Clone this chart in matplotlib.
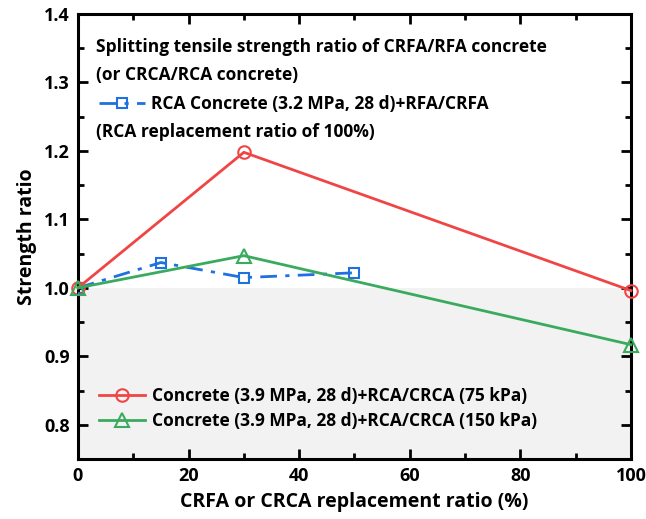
import numpy as np
import matplotlib.pyplot as plt
from matplotlib.ticker import MultipleLocator

plt.rcParams['font.family'] = ['Open Sans', 'DejaVu Sans']
plt.rcParams['font.weight'] = 'bold'

# Datos
x_rca = [0, 15, 30, 50]
y_rca = [1.0, 1.037, 1.015, 1.022]

x_75 = [0, 30, 100]
y_75 = [1.0, 1.198, 0.996]

x_150 = [0, 30, 100]
y_150 = [1.0, 1.047, 0.917]

ROJO = '#f04545'
VERDE = '#3aab5e'
AZUL = '#1f70e0'
FS = 12.5

fig = plt.figure(figsize=(6.46, 5.19), dpi=100)
ax = fig.add_axes([0.1207, 0.1156, 0.8561, 0.8574])

ax.set_xlim(0, 100)
ax.set_ylim(0.75, 1.4)

# zona sombreada por debajo de ratio 1.0
ax.axhspan(0.75, 1.0, color='#f2f2f2', zorder=0, lw=0)

lb, = ax.plot(x_rca, y_rca, color=AZUL, lw=2.0, dashes=[6, 3, 1.5, 3],
              marker='s', ms=7, mfc='none', mec=AZUL, mew=1.5, zorder=3)
l75, = ax.plot(x_75, y_75, color=ROJO, lw=2.0, marker='o', ms=9,
               mfc='none', mec=ROJO, mew=1.5, zorder=4, clip_on=False)
l150, = ax.plot(x_150, y_150, color=VERDE, lw=2.0, marker='^', ms=10,
                mfc='none', mec=VERDE, mew=1.5, zorder=5, clip_on=False)

ax.text(0.033, 0.925, 'Splitting tensile strength ratio of CRFA/RFA concrete',
        transform=ax.transAxes, fontsize=FS, fontweight='bold', va='center')
ax.text(0.033, 0.863, '(or CRCA/RCA concrete)',
        transform=ax.transAxes, fontsize=FS, fontweight='bold', va='center')
ax.text(0.033, 0.735, '(RCA replacement ratio of 100%)',
        transform=ax.transAxes, fontsize=FS, fontweight='bold', va='center')

leg1 = ax.legend([lb], ['RCA Concrete (3.2 MPa, 28 d)+RFA/CRFA'],
                 loc='center left', bbox_to_anchor=(0.018, 0.798), frameon=False,
                 fontsize=FS, handlelength=2.65, handletextpad=0.35,
                 borderaxespad=0.25)
ax.add_artist(leg1)
ax.legend([l75, l150],
          ['Concrete (3.9 MPa, 28 d)+RCA/CRCA (75 kPa)',
           'Concrete (3.9 MPa, 28 d)+RCA/CRCA (150 kPa)'],
          loc='lower left', bbox_to_anchor=(0.018, 0.04), frameon=False,
          fontsize=FS, handlelength=2.65, handletextpad=0.4, labelspacing=0.4,
          borderaxespad=0.25)

ax.xaxis.set_major_locator(MultipleLocator(20))
ax.xaxis.set_minor_locator(MultipleLocator(10))
ax.yaxis.set_major_locator(MultipleLocator(0.1))
ax.yaxis.set_minor_locator(MultipleLocator(0.05))
ax.tick_params(which='both', direction='in', top=True, right=True, width=2,
               labelsize=13)
ax.tick_params(which='major', length=7, pad=6)
ax.tick_params(which='minor', length=4)
for lbl in ax.get_xticklabels() + ax.get_yticklabels():
    lbl.set_fontweight('bold')
for s in ax.spines.values():
    s.set_linewidth(2.2)

ax.set_xlabel('CRFA or CRCA replacement ratio (%)', fontsize=14,
              fontweight='bold', labelpad=5)
ax.set_ylabel('Strength ratio', fontsize=14, fontweight='bold', labelpad=5)

fig.savefig('out.png', dpi=100)
